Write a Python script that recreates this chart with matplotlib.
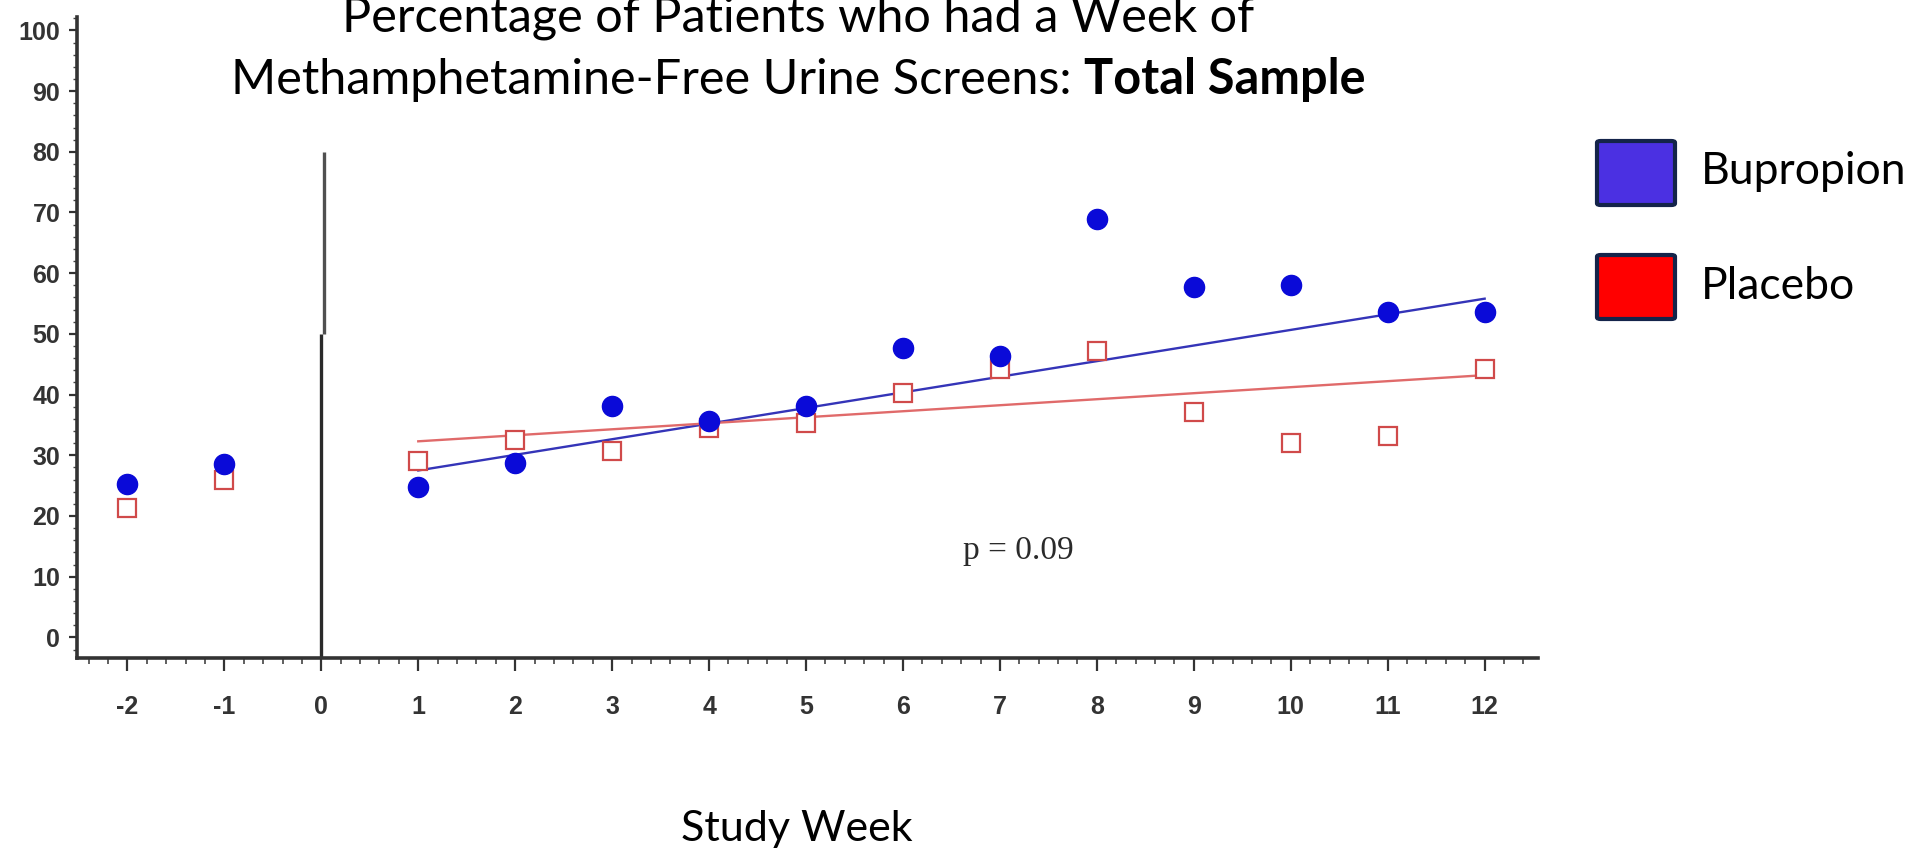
import matplotlib
matplotlib.use("Agg")
import matplotlib.pyplot as plt
from matplotlib.patches import FancyBboxPatch
from matplotlib.ticker import MultipleLocator

# weekly percentage of patients with a methamphetamine-free week
weeks = [-2, -1, 1, 2, 3, 4, 5, 6, 7, 8, 9, 10, 11, 12]
bupropion = [25.3, 28.5, 24.7, 28.7, 38.2, 35.7, 38.2, 47.6, 46.4, 68.9, 57.8, 58.0, 53.6, 53.6]
placebo = [21.3, 25.9, 29.1, 32.5, 30.7, 34.5, 35.3, 40.2, 44.2, 47.2, 37.1, 32.1, 33.1, 44.2]

# fitted trend over the treatment weeks
trend_weeks = [1, 12]
bupropion_trend = [27.5, 55.8]
placebo_trend = [32.3, 43.2]

xticks = list(range(-2, 13))
yticks = list(range(0, 101, 10))
groups = ["Bupropion", "Placebo"]
group_colors = ["#4b30e2", "#ff0000"]

TITLE_FONT = ["Lato", "DejaVu Sans"]
TICK_FONT = ["Liberation Sans", "DejaVu Sans"]

plt.rcParams["axes.unicode_minus"] = False

fig = plt.figure(figsize=(19.11, 8.52), dpi=100)
ax = fig.add_axes([0.0403, 0.2277, 0.7645, 0.7523])

ax.set_xlim(-2.52, 12.55)
ax.set_ylim(-3.4, 102.2)

# randomisation marker at week 0
ax.plot([0, 0], [-3.4, 50], color="#2a2a2a", lw=2.4, solid_capstyle="butt", zorder=2)
ax.plot([0.03, 0.03], [50, 80], color="#505050", lw=2.4, solid_capstyle="butt", zorder=2)

ax.plot(trend_weeks, bupropion_trend, color="#3434b8", lw=1.7, zorder=3)
ax.plot(trend_weeks, placebo_trend, color="#e06a6a", lw=1.7, zorder=3)

ax.plot(weeks, placebo, ls="none", marker="s", ms=13.5, mfc="white", mec="#d04a4a",
        mew=1.6, zorder=4)
ax.plot(weeks, bupropion, ls="none", marker="o", ms=14.5, mfc="#0a0ad8", mec="#0a0ad8",
        zorder=5)

ax.text(7.19, 14.3, "p = 0.09", family=["Liberation Serif", "DejaVu Serif"], fontsize=24,
        ha="center", va="center", color="#2a2a2a")

for side in ("top", "right"):
    ax.spines[side].set_visible(False)
for side in ("left", "bottom"):
    ax.spines[side].set_linewidth(2.6)
    ax.spines[side].set_color("#333333")

ax.set_xticks(xticks)
ax.set_yticks(yticks)
ax.xaxis.set_minor_locator(MultipleLocator(0.2))
ax.yaxis.set_minor_locator(MultipleLocator(2))
ax.tick_params(axis="x", which="major", direction="out", length=9, width=1.6,
               color="#333333", pad=18, labelsize=18)
ax.tick_params(axis="x", which="minor", direction="out", length=4, width=1.2, color="#444444")
ax.tick_params(axis="y", which="major", direction="out", length=6, width=1.6,
               color="#333333", pad=6, labelsize=18)
ax.tick_params(axis="y", which="minor", direction="out", length=3, width=1.0, color="#444444")
for lab in ax.get_xticklabels() + ax.get_yticklabels():
    lab.set_family(TICK_FONT)
    lab.set_fontweight("bold")
    lab.set_color("#333333")

# title, with the sample name in bold
fig.text(0.4175, 1 - 32 / 852, "Percentage of Patients who had a Week of",
         family=TITLE_FONT, fontsize=35, ha="center", va="baseline")
t1 = fig.text(0.0, 1 - 94 / 852, "Methamphetamine-Free Urine Screens: ",
              family=TITLE_FONT, fontsize=35, ha="left", va="baseline")
t2 = ax.annotate("Total Sample", xy=(1, 0), xycoords=t1, family=TITLE_FONT,
                 fontsize=35, fontweight="bold", ha="left", va="bottom",
                 annotation_clip=False)
fig.canvas.draw()
r = fig.canvas.get_renderer()
w = (t1.get_window_extent(r).width + t2.get_window_extent(r).width) / fig.bbox.width
t1.set_x(0.4175 - w / 2)

fig.text(0.4167, 1 - 829 / 852, "Study Week", family=TITLE_FONT, fontsize=31,
         ha="center", va="center")

# legend boxes
box_y = [139, 253]
for name, col, y in zip(groups, group_colors, box_y):
    fig.add_artist(FancyBboxPatch((1597 / 1911, 1 - (y + 66) / 852), 78 / 1911, 64 / 852,
                                  boxstyle="round,pad=0,rounding_size=0.002",
                                  transform=fig.transFigure, fc=col, ec="#14244a", lw=3))
    fig.text(1701 / 1911, 1 - (y + 33) / 852, name, family=TITLE_FONT, fontsize=32,
             ha="left", va="center")

fig.savefig("out.png", dpi=100)
